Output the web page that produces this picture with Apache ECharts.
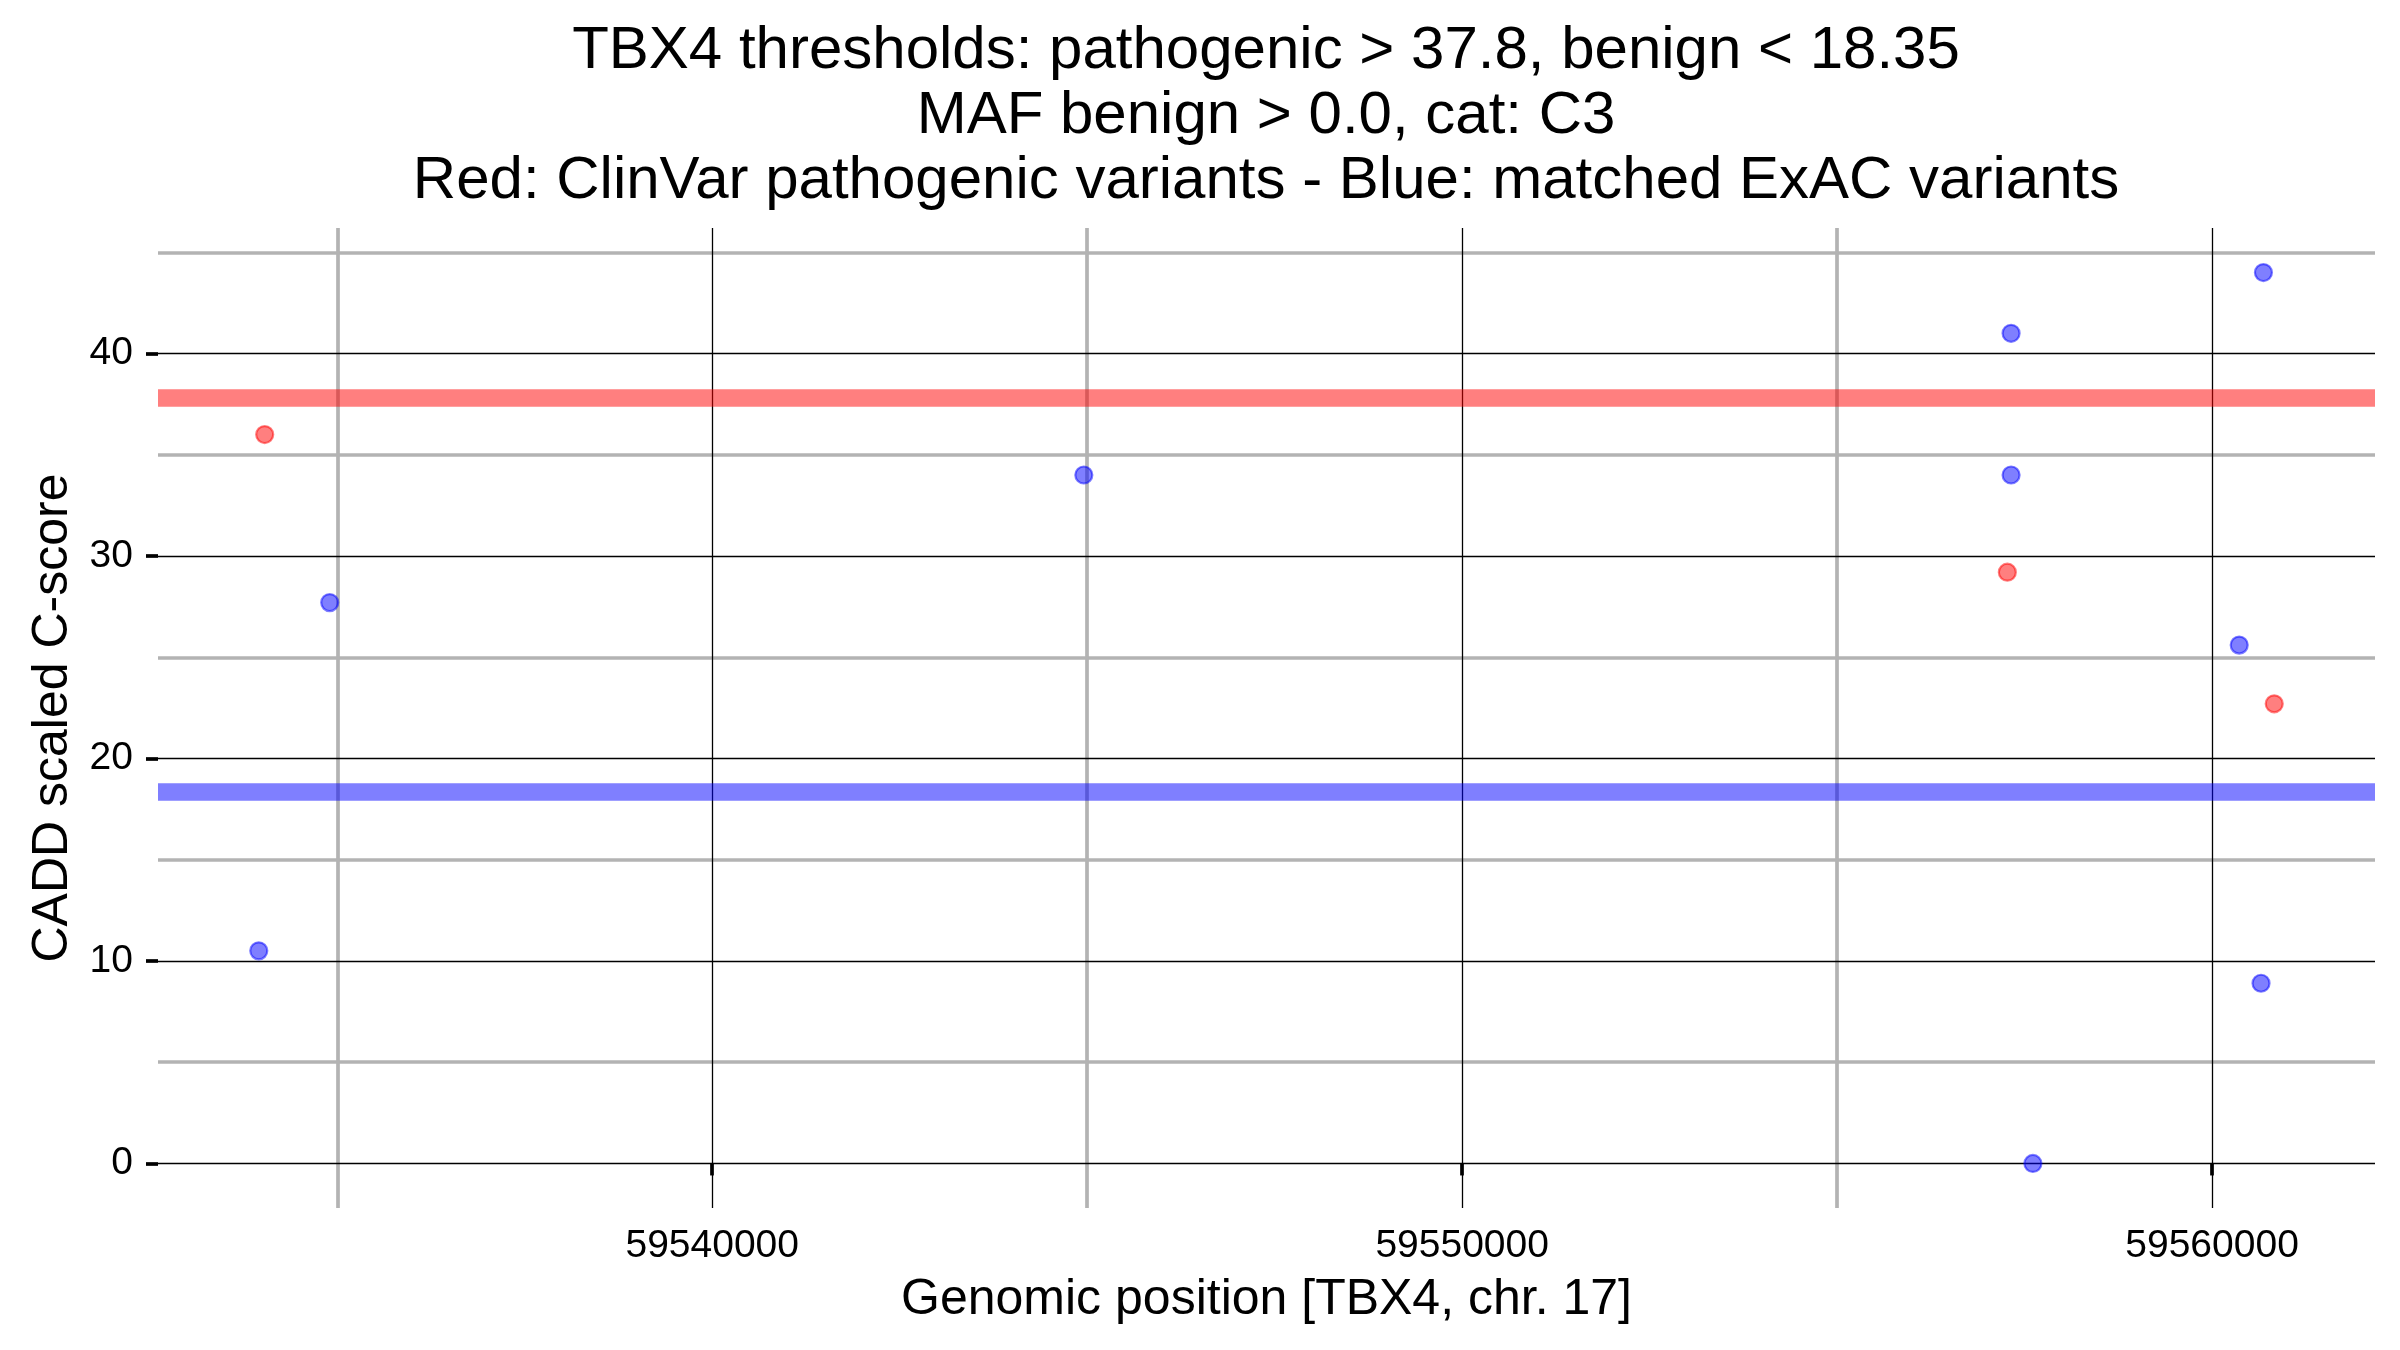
<!DOCTYPE html>
<html>
<head>
<meta charset="utf-8">
<script src="https://cdn.jsdelivr.net/npm/echarts@6/dist/echarts.min.js"></script>
<style>html,body{margin:0;padding:0;background:#fff}#c{width:2400px;height:1350px}</style>
</head>
<body>
<div id="c"></div>
<script>
const titleLines = [
  'TBX4 thresholds: pathogenic > 37.8, benign < 18.35',
  'MAF benign > 0.0, cat: C3',
  'Red: ClinVar pathogenic variants - Blue: matched ExAC variants'
];
const xTitle = 'Genomic position [TBX4, chr. 17]';
const yTitle = 'CADD scaled C-score';

const pathogenicX = [59534032, 59557270, 59560829];
const pathogenicY = [36.0, 29.2, 22.7];
const exacX = [59533953, 59534899, 59544955, 59557320, 59557320, 59557611, 59560685, 59560362, 59560653];
const exacY = [10.5, 27.7, 34.0, 41.0, 34.0, 0.0, 44.0, 25.6, 8.9];

const thresholdPathogenic = 37.8;
const thresholdBenign = 18.35;

const xMajorTicks = [59540000, 59550000, 59560000];
const xMinorTicks = [59535000, 59545000, 59555000];
const yMajorTicks = [0, 10, 20, 30, 40];
const yMinorTicks = [5, 15, 25, 35, 45];

const FONT = 'Liberation Sans, Arial, sans-serif';

const allX = pathogenicX.concat(exacX);
const allY = pathogenicY.concat(exacY);
function expand(arr) {
  const lo = Math.min.apply(null, arr), hi = Math.max.apply(null, arr);
  const pad = (hi - lo) * 0.05;
  return [lo - pad, hi + pad];
}
const xr = expand(allX), yr = expand(allY);

const pathogenicData = pathogenicX.map((x, i) => [x, pathogenicY[i]]);
const exacData = exacX.map((x, i) => [x, exacY[i]]);

const chart = echarts.init(document.getElementById('c'), null, {renderer: 'canvas'});

const minorLine = {show: true, lineStyle: {color: '#b3b3b3', width: 3.7}};
const majorLine = {show: true, lineStyle: {color: '#000', width: 1.3}};

chart.setOption({
  backgroundColor: '#fff',
  animation: false,
  title: {
    text: titleLines.join('\n'),
    left: 1266,
    top: 19,
    textAlign: 'center',
    padding: 0,
    textStyle: {fontFamily: FONT, fontSize: 60, lineHeight: 65, fontWeight: 'normal', color: '#000'}
  },
  grid: {left: 158, right: 25, top: 228, bottom: 142, containLabel: false, outerBoundsMode: 'none'},
  xAxis: [
    {
      type: 'value', min: xr[0], max: xr[1], position: 'bottom',
      name: xTitle, nameLocation: 'middle', nameGap: 67,
      nameTextStyle: {fontFamily: FONT, fontSize: 50, color: '#000'},
      axisLine: {show: false},
      axisTick: {show: true, length: 12, customValues: xMajorTicks, lineStyle: {color: '#000', width: 3.7}},
      axisLabel: {show: true, customValues: xMajorTicks, margin: 19, fontFamily: FONT, fontSize: 39, color: '#000', formatter: v => String(v)},
      splitLine: majorLine,
      z: 3
    },
    {
      type: 'value', min: xr[0], max: xr[1], position: 'top',
      axisLine: {show: false},
      axisTick: {show: false, customValues: xMinorTicks},
      axisLabel: {show: false, customValues: xMinorTicks},
      splitLine: minorLine,
      z: 1
    }
  ],
  yAxis: [
    {
      type: 'value', min: yr[0], max: yr[1], position: 'left',
      name: yTitle, nameLocation: 'middle', nameGap: 80, nameRotate: 90,
      nameTextStyle: {fontFamily: FONT, fontSize: 50, color: '#000'},
      axisLine: {show: false},
      axisTick: {show: true, length: 12, customValues: yMajorTicks, lineStyle: {color: '#000', width: 3.7}},
      axisLabel: {show: true, customValues: yMajorTicks, margin: 25, fontFamily: FONT, fontSize: 39, color: '#000'},
      splitLine: majorLine,
      z: 3
    },
    {
      type: 'value', min: yr[0], max: yr[1], position: 'right',
      axisLine: {show: false},
      axisTick: {show: false, customValues: yMinorTicks},
      axisLabel: {show: false, customValues: yMinorTicks},
      splitLine: minorLine,
      z: 1
    }
  ],
  series: [
    {
      name: 'thresholds', type: 'scatter', data: [], xAxisIndex: 0, yAxisIndex: 0,
      markLine: {
        silent: true, symbol: 'none', label: {show: false}, animation: false,
        data: [
          {yAxis: thresholdPathogenic, lineStyle: {color: 'rgba(255,0,0,0.5)', width: 17.7, type: 'solid'}},
          {yAxis: thresholdBenign, lineStyle: {color: 'rgba(0,0,255,0.5)', width: 17.7, type: 'solid'}}
        ]
      },
      z: 4
    },
    {
      name: 'ClinVar pathogenic', type: 'scatter', data: pathogenicData, xAxisIndex: 0, yAxisIndex: 0,
      symbol: 'circle', symbolSize: 17,
      itemStyle: {color: 'rgba(255,0,0,0.5)', borderColor: 'rgba(255,0,0,0.5)', borderWidth: 2.2, opacity: 1},
      emphasis: {disabled: true}, z: 5
    },
    {
      name: 'ExAC', type: 'scatter', data: exacData, xAxisIndex: 0, yAxisIndex: 0,
      symbol: 'circle', symbolSize: 17,
      itemStyle: {color: 'rgba(0,0,255,0.5)', borderColor: 'rgba(0,0,255,0.5)', borderWidth: 2.2, opacity: 1},
      emphasis: {disabled: true}, z: 5
    }
  ]
});
</script>
</body>
</html>
